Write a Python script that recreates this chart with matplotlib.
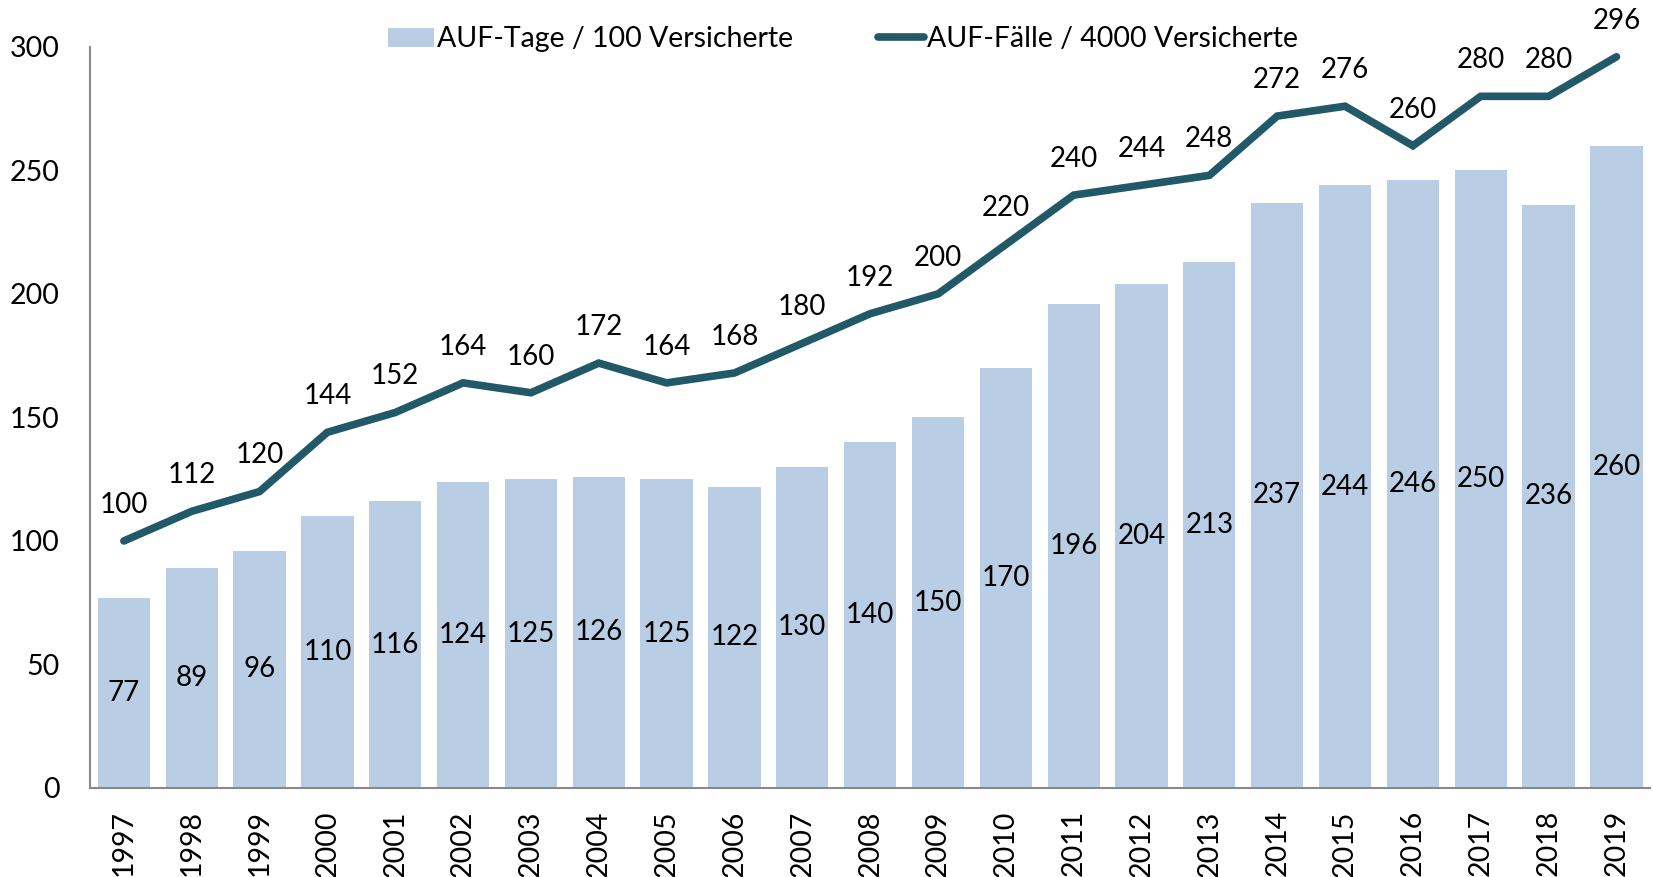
import matplotlib.pyplot as plt
import numpy as np

YEARS = [str(y) for y in range(1997, 2020)]
AUF_TAGE = [77, 89, 96, 110, 116, 124, 125, 126, 125, 122, 130, 140, 150,
            170, 196, 204, 213, 237, 244, 246, 250, 236, 260]
AUF_FAELLE = [100, 112, 120, 144, 152, 164, 160, 172, 164, 168, 180, 192, 200,
              220, 240, 244, 248, 272, 276, 260, 280, 280, 296]

BAR_COLOR = "#b9cde5"
LINE_COLOR = "#215968"
SPINE_COLOR = "#898989"

plt.rcParams["font.family"] = ["Lato", "DejaVu Sans"]

fig = plt.figure(figsize=(16.53, 8.77), dpi=100)
ax = fig.add_axes([0.0544, 0.1015, 0.944, 0.845])

x = np.arange(len(YEARS))
bars = ax.bar(x, AUF_TAGE, width=0.77, color=BAR_COLOR,
              label="AUF-Tage / 100 Versicherte", zorder=1)
line, = ax.plot(x, AUF_FAELLE, color=LINE_COLOR, linewidth=5.5, solid_capstyle="round",
                solid_joinstyle="miter", label="AUF-Fälle / 4000 Versicherte", zorder=3)

# labels: bars centred, line above points
for xi, v in zip(x, AUF_TAGE):
    ax.text(xi, v / 2, str(v), ha="center", va="center", fontsize=20, zorder=4)
for xi, v in zip(x, AUF_FAELLE):
    ax.annotate(str(v), (xi, v), xytext=(0, 26), textcoords="offset points",
                ha="center", va="center", fontsize=20, zorder=4, annotation_clip=False)

ax.set_xlim(-0.5, len(YEARS) - 0.5)
ax.set_ylim(0, 300)
ax.set_yticks(range(0, 301, 50))
ax.set_xticks(x)
ax.set_xticklabels(YEARS, rotation=90)
ax.tick_params(axis="both", length=0, labelsize=20.5)
ax.tick_params(axis="y", pad=22)
ax.tick_params(axis="x", pad=16)

for side in ["top", "right"]:
    ax.spines[side].set_visible(False)
for side in ["left", "bottom"]:
    ax.spines[side].set_color(SPINE_COLOR)
    ax.spines[side].set_linewidth(1.5)

fig.legend([bars, line], [bars.get_label(), line.get_label()],
           loc="center", bbox_to_anchor=(0.51, 0.955), ncol=2, frameon=False,
           fontsize=20.5, handlelength=1.6, handletextpad=0.1, columnspacing=3.0)

fig.savefig("out.png", dpi=100)
